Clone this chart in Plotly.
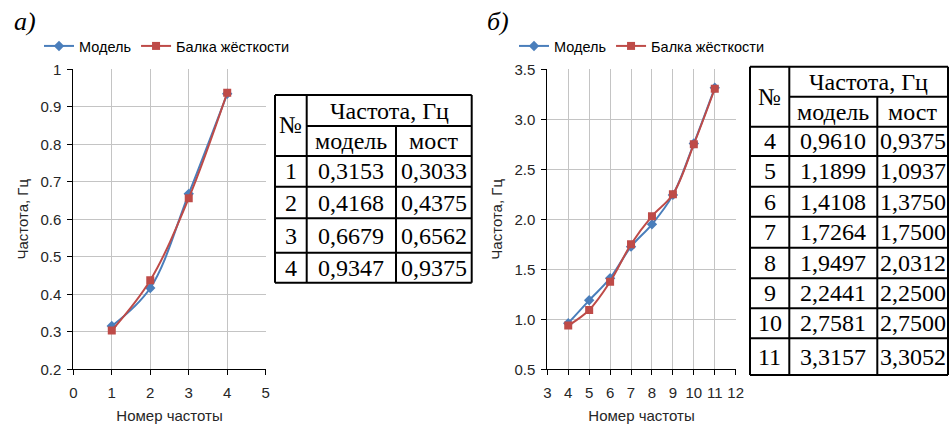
import plotly.graph_objects as go

# ---- data ----
freq_no_a = [1, 2, 3, 4]
model_a = [0.3153, 0.4168, 0.6679, 0.9347]
bridge_a = [0.3033, 0.4375, 0.6562, 0.9375]

freq_no_b = [4, 5, 6, 7, 8, 9, 10, 11]
model_b = [0.9610, 1.1899, 1.4108, 1.7264, 1.9497, 2.2441, 2.7581, 3.3157]
bridge_b = [0.9375, 1.0937, 1.3750, 1.7500, 2.0312, 2.2500, 2.7500, 3.3052]

series_names = ["Модель", "Балка жёсткости"]
table_header = ["№", "Частота, Гц", "модель", "мост"]
axis_x_title = "Номер частоты"
axis_y_title = "Частота, Гц"
panel_labels = ["а)", "б)"]

# ---- page geometry (pixels) ----
W, H = 949, 424
BLUE = "#4A7EBB"
RED = "#BE4B48"
TXT = "#262626"
GRID = "#c4c4c4"
SANS = "Arial, Liberation Sans, sans-serif"
SERIF = "Liberation Serif, Times New Roman, serif"


def fx(px):
    return px / W


def fy(py):
    return 1 - py / H


def fmt(v):
    return f"{v:.4f}".replace(".", ",")


fig = go.Figure()

for xs, m, b, xa, ya, lg in [
    (freq_no_a, model_a, bridge_a, "x", "y", "legend"),
    (freq_no_b, model_b, bridge_b, "x2", "y2", "legend2"),
]:
    fig.add_trace(go.Scatter(
        x=xs, y=m, name=series_names[0], mode="lines+markers",
        line=dict(color=BLUE, width=2, shape="spline"),
        marker=dict(symbol="diamond", size=8, color=BLUE),
        xaxis=xa, yaxis=ya, legend=lg))
    fig.add_trace(go.Scatter(
        x=xs, y=b, name=series_names[1], mode="lines+markers",
        line=dict(color=RED, width=2, shape="spline"),
        marker=dict(symbol="square", size=8, color=RED),
        xaxis=xa, yaxis=ya, legend=lg))

axis_common = dict(
    showline=True, linecolor="#000000", linewidth=1,
    showgrid=True, gridcolor=GRID, gridwidth=1,
    zeroline=False, ticks="outside", ticklen=5, tickcolor="#000000",
    tickfont=dict(family=SANS, size=15, color=TXT),
    automargin=False, fixedrange=True,
)

y_dom = [fy(369.3), fy(69.3)]

fig.update_layout(
    width=W, height=H,
    margin=dict(l=0, r=0, t=0, b=0),
    paper_bgcolor="white", plot_bgcolor="white",
    xaxis=dict(domain=[fx(73.3), fx(265.7)], range=[0, 5], dtick=1, anchor="y",
               ticklabelstandoff=5,
               title=dict(text=axis_x_title, standoff=10,
                          font=dict(family=SANS, size=15, color=TXT)),
               **axis_common),
    yaxis=dict(domain=y_dom, range=[0.2, 1.0], dtick=0.1, anchor="x",
               tickformat="~g", ticklabelstandoff=3,
               title=dict(text=axis_y_title, standoff=8,
                          font=dict(family=SANS, size=15, color=TXT)),
               **axis_common),
    xaxis2=dict(domain=[fx(547.3), fx(735.7)], range=[3, 12], dtick=1, anchor="y2",
                ticklabelstandoff=5,
                title=dict(text=axis_x_title, standoff=10,
                           font=dict(family=SANS, size=15, color=TXT)),
                **axis_common),
    yaxis2=dict(domain=y_dom, range=[0.5, 3.5], dtick=0.5, anchor="x2",
                tickformat=".1f", ticklabelstandoff=3,
                title=dict(text=axis_y_title, standoff=8,
                           font=dict(family=SANS, size=15, color=TXT)),
                **axis_common),
    legend=dict(orientation="h", x=fx(167), xanchor="center", y=fy(46), yanchor="middle",
                font=dict(family=SANS, size=14.5, color="#000000"),
                bgcolor="rgba(0,0,0,0)", itemwidth=30, tracegroupgap=0),
    legend2=dict(orientation="h", x=fx(642), xanchor="center", y=fy(46), yanchor="middle",
                 font=dict(family=SANS, size=14.5, color="#000000"),
                 bgcolor="rgba(0,0,0,0)", itemwidth=30, tracegroupgap=0),
    showlegend=True,
)

# ---- panel labels ----
for txt, px, py in [(panel_labels[0], 25, 21), (panel_labels[1], 498, 21)]:
    fig.add_annotation(text=txt, x=fx(px), y=fy(py), xref="paper", yref="paper",
                       showarrow=False, xanchor="center", yanchor="middle",
                       font=dict(family=SERIF, size=26, color="#000000", style="italic"))


# ---- tables ----
def draw_table(cols, rows, nums, mvals, bvals):
    c0, c1, c2, c3 = cols
    top, mid, hb = rows[0], rows[1], rows[2]
    bottom = rows[-1]
    line = dict(color="#000000", width=2)

    def seg(x0, y0, x1, y1):
        fig.add_shape(type="line", xref="paper", yref="paper",
                      x0=fx(x0), y0=fy(y0), x1=fx(x1), y1=fy(y1), line=line)

    # outer frame and rules
    seg(c0, top, c3, top)
    seg(c0, bottom, c3, bottom)
    seg(c0, top, c0, bottom)
    seg(c3, top, c3, bottom)
    seg(c1, top, c1, bottom)
    seg(c2, mid, c2, bottom)
    seg(c1, mid, c3, mid)
    for r in rows[2:-1]:
        seg(c0, r, c3, r)

    def cell(text, xa, xb, ya, yb):
        fig.add_annotation(text=text, x=fx((xa + xb) / 2), y=fy((ya + yb) / 2),
                           xref="paper", yref="paper", showarrow=False,
                           xanchor="center", yanchor="middle",
                           font=dict(family=SERIF, size=24, color="#000000"))

    cell(table_header[0], c0, c1, top, hb)
    cell(table_header[1], c1, c3, top, mid)
    cell(table_header[2], c1, c2, mid, hb)
    cell(table_header[3], c2, c3, mid, hb)
    for i, (n, mv, bv) in enumerate(zip(nums, mvals, bvals)):
        ya, yb = rows[2 + i], rows[3 + i]
        cell(str(n), c0, c1, ya, yb)
        cell(fmt(mv), c1, c2, ya, yb)
        cell(fmt(bv), c2, c3, ya, yb)


draw_table([275, 306.7, 396, 471.7],
           [95, 126, 156, 186.7, 218.3, 252.7, 282.7],
           freq_no_a, model_a, bridge_a)
draw_table([750, 789.3, 877.3, 948],
           [66.7, 96.7, 126.7, 156, 186.7, 216.7, 247.7, 278.3, 308.3, 338.3, 375],
           freq_no_b, model_b, bridge_b)

fig.write_html("out.html")
